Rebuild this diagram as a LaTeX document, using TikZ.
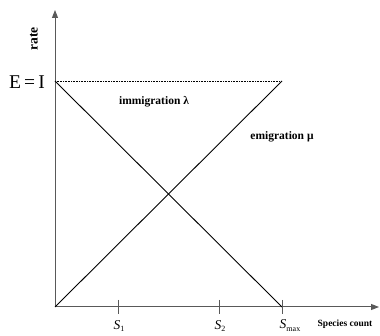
\documentclass[tikz,border=0pt]{standalone}
\usepackage{fontspec}
\setmainfont{Liberation Serif}
\usetikzlibrary{arrows.meta}
\begin{document}
\begin{tikzpicture}[x=1pt,y=-1pt,
  axis/.style={draw=black!65,line width=1pt},
  curve/.style={draw=black,line width=0.9pt},
  tick/.style={draw=black!65,line width=0.9pt},
  lbl/.style={font=\bfseries\fontsize{11.5}{13}\selectfont,inner sep=0pt},
  slbl/.style={font=\itshape\fontsize{13.5}{15}\selectfont,inner sep=0pt}]
\useasboundingbox (0,0) rectangle (380,336);
\coordinate (O) at (55,307);
\coordinate (Ytop) at (55,10);
\coordinate (Xend) at (379,307);
\coordinate (EI) at (55,81);
\coordinate (Top) at (282,81);
\coordinate (Smax) at (282,307);
\draw[axis,-{Triangle[length=8pt,width=6pt]}] (O) -- (Ytop);
\draw[axis,-{Triangle[length=8pt,width=6pt]}] (O) -- (Xend);
\draw[densely dotted,line width=0.6pt] (EI) -- (Top);
\draw[curve] (EI) -- (Smax);
\draw[curve] (O) -- (Top);
\foreach \x in {118,219,282} \draw[tick] (\x,300) -- (\x,314);
\node[font=\fontsize{19.5}{22}\selectfont,inner sep=0pt] (ei) at (27,82) {E\,=\,I};
\node[font=\bfseries\fontsize{13.5}{15}\selectfont,rotate=90,inner sep=0pt] (rate) at (34,39) {rate};
\node[lbl] (imm) at (154,102) {immigration λ};
\node[lbl] (emi) at (282,137) {emigration μ};
\node[slbl] (s1) at (119,326) {S\raisebox{-0.35ex}{\upshape\fontsize{8}{9}\selectfont 1}};
\node[slbl] (s2) at (220,326) {S\raisebox{-0.35ex}{\upshape\fontsize{8}{9}\selectfont 2}};
\node[slbl] (s3) at (290,326) {S\raisebox{-0.5ex}{\upshape\fontsize{8}{9}\selectfont max}};
\node[font=\bfseries\fontsize{9.5}{11}\selectfont,inner sep=0pt] (sc) at (345,324) {Species count};
\end{tikzpicture}
\end{document}
